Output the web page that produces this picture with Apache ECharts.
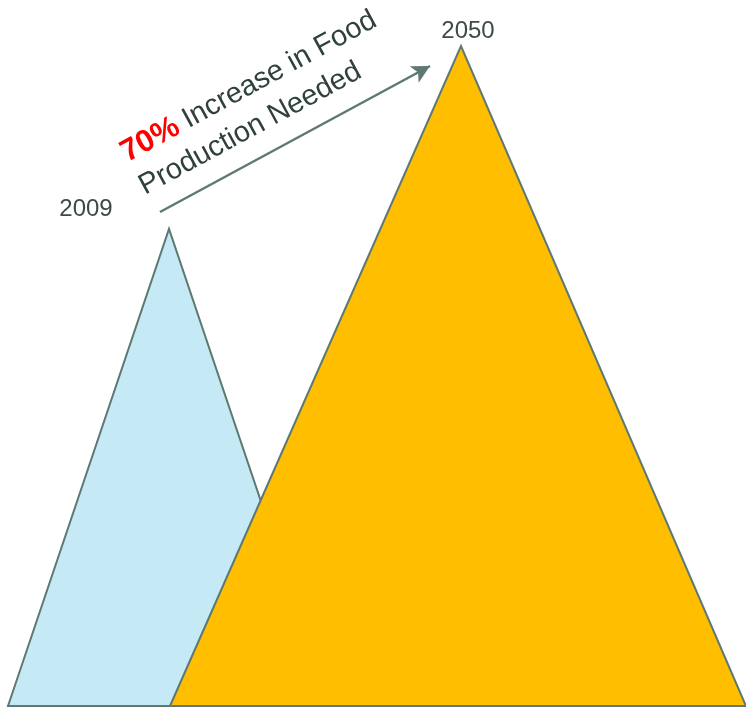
<!DOCTYPE html>
<html><head><meta charset="utf-8">
<script src="https://cdn.jsdelivr.net/npm/echarts@6/dist/echarts.min.js"></script>
<style>html,body{margin:0;padding:0;background:#fff}#c{width:746px;height:707px}</style>
</head><body><div id="c"></div>
<script>
// Data
const years = ['2009', '2050'];
const productionLevel = [477, 660];      // relative height of each peak
const spanStart = [8, 170];
const peakAt = [169, 461];
const spanEnd = [330, 746];
const fills = ['#c5eaf6', '#ffbf00'];
const arrowFrom = [160, 494];
const arrowTo = [430, 640];

const chart = echarts.init(document.getElementById('c'), null, {renderer: 'canvas'});
const stroke = '#5e7874';

function makeSeries(i) {
  return {
    type: 'custom',
    name: years[i],
    z: 2 + i,
    data: [[spanStart[i], peakAt[i], spanEnd[i], productionLevel[i]]],
    renderItem: function (params, api) {
      const pts = [api.coord([api.value(0), 0]), api.coord([api.value(1), api.value(3)]), api.coord([api.value(2), 0])];
      return {type: 'polygon', shape: {points: pts}, style: {fill: fills[i], stroke: stroke, lineWidth: 2}};
    },
    animation: false
  };
}

const series = [makeSeries(0), makeSeries(1)];
series[1].markLine = {
  silent: true, animation: false,
  symbol: ['none', 'arrow'], symbolSize: [14, 18],
  label: {show: false},
  lineStyle: {color: stroke, width: 2.5, type: 'solid'},
  data: [[{coord: arrowFrom}, {coord: arrowTo}]]
};

chart.setOption({
  animation: false,
  grid: {left: 0, right: 0, top: 6, bottom: 1},
  xAxis: {type: 'value', min: 0, max: 746, show: false},
  yAxis: {type: 'value', min: 0, max: 700, show: false},
  series: series,
  graphic: [
    {type: 'line', shape: {x1: 8, y1: 706, x2: 746, y2: 706}, style: {stroke: stroke, lineWidth: 2}, z: 10},
    {type: 'text', x: 86, y: 209, style: {text: years[0], font: '24px "Liberation Sans", Arial, sans-serif', fill: '#3d4b49', align: 'center', verticalAlign: 'middle'}},
    {type: 'text', x: 468, y: 31, style: {text: years[1], font: '24px "Liberation Sans", Arial, sans-serif', fill: '#3d4b49', align: 'center', verticalAlign: 'middle'}},
    {type: 'text', x: 114, y: 138, rotation: 28.5 * Math.PI / 180,
     style: {
       text: '{r|70%}{t| Increase in Food}\n{t|Production Needed}',
       align: 'left', verticalAlign: 'top',
       rich: {
         r: {font: 'bold 31px "Liberation Sans", Arial, sans-serif', fill: '#ff0000', lineHeight: 38},
         t: {font: '29px "Liberation Sans", Arial, sans-serif', fill: '#2f403d', lineHeight: 38}
       }
     }}
  ]
});
</script></body></html>
